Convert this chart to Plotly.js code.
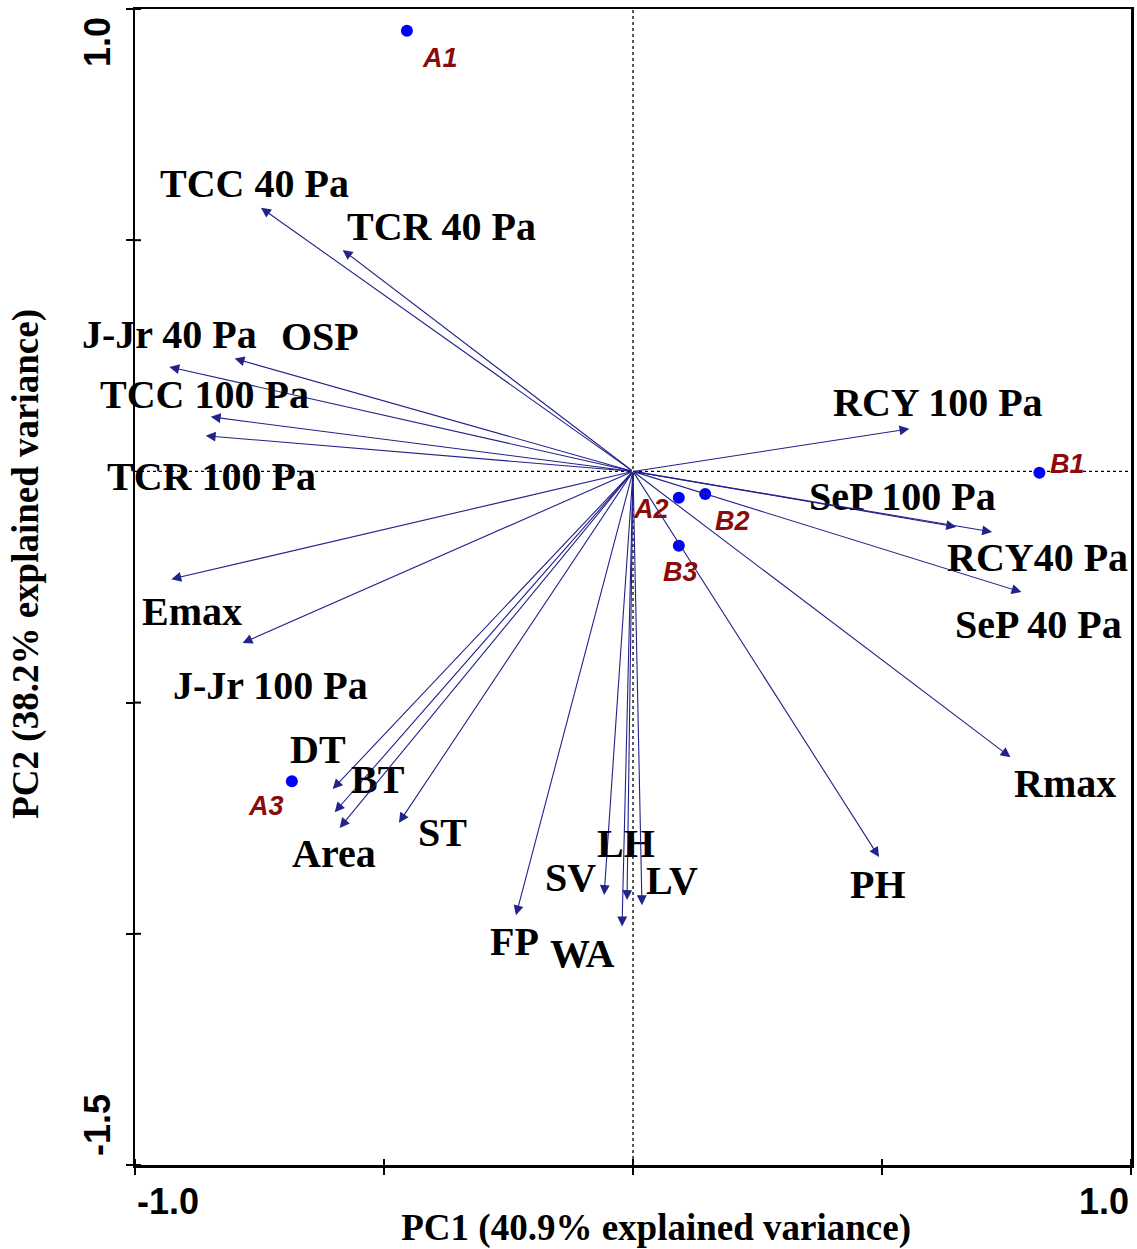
<!DOCTYPE html>
<html>
<head>
<meta charset="utf-8">
<script src="https://cdn.plot.ly/plotly-3.0.1.min.js"></script>
<style>html,body{margin:0;padding:0;background:#fff;}#chart{width:1137px;height:1249px;}</style>
</head>
<body>
<div id="chart"></div>
<script>
// ---- data ----
const varNames = ['TCC 40 Pa','TCR 40 Pa','J-Jr 40 Pa','OSP','TCC 100 Pa','TCR 100 Pa','Emax','J-Jr 100 Pa','DT','BT','Area','ST','FP','SV','WA','LH','LV','PH','Rmax','RCY 100 Pa','SeP 100 Pa','RCY40 Pa','SeP 40 Pa'];
const varPC1 = [-0.747,-0.583,-0.931,-0.800,-0.848,-0.858,-0.927,-0.784,-0.603,-0.599,-0.589,-0.470,-0.235,-0.058,-0.022,-0.012,0.018,0.494,0.758,0.555,0.649,0.721,0.780];
const varPC2 = [0.570,0.479,0.226,0.244,0.118,0.077,-0.233,-0.371,-0.687,-0.737,-0.771,-0.760,-0.960,-0.916,-0.984,-0.927,-0.938,-0.834,-0.618,0.092,-0.120,-0.131,-0.261];

const sampleNames = ['A1','A2','A3','B1','B2','B3'];
const samplePC1 = [-0.454,0.092,-0.685,0.816,0.145,0.092];
const samplePC2 = [0.953,-0.057,-0.670,-0.003,-0.049,-0.161];

const xTickVals = [-1,-0.5,0,0.5,1];
const yTickVals = [-1.5,-1,-0.5,0.5,1];
const xTitle = 'PC1 (40.9% explained variance)';
const yTitle = 'PC2 (38.2% explained variance)';

// ---- label placement (data units) ----
const varLabelX = [-0.760,-0.384,-0.931,-0.629,-0.860,-0.846,-0.886,-0.728,-0.633,-0.513,-0.601,-0.382,-0.237,-0.125,-0.101,-0.014,0.078,0.492,0.868,0.613,0.541,0.812,0.814];
const varLabelY = [0.622,0.529,0.295,0.291,0.166,-0.012,-0.304,-0.464,-0.601,-0.666,-0.826,-0.780,-1.016,-0.878,-1.042,-0.804,-0.884,-0.893,-0.674,0.148,-0.055,-0.187,-0.332];
const sampleLabelX = [-0.388,0.036,-0.736,0.872,0.199,0.096];
const sampleLabelY = [0.895,-0.081,-0.724,0.016,-0.107,-0.218];

const arrowColor = '#22228a';
const serif = 'Liberation Serif, Times New Roman, serif';
const sans = 'Liberation Sans, Arial, sans-serif';

const annotations = [];
// arrows from origin to loadings
varNames.forEach((n,i)=>{
  annotations.push({x:varPC1[i], y:varPC2[i], ax:0, ay:0, xref:'x', yref:'y', axref:'x', ayref:'y',
    text:'', showarrow:true, arrowhead:2, arrowsize:1.8, arrowwidth:1.1, arrowcolor:arrowColor, standoff:0});
  annotations.push({x:varLabelX[i], y:varLabelY[i], xref:'x', yref:'y', text:'<b>'+n+'</b>', showarrow:false,
    xanchor:'center', yanchor:'middle', font:{family:serif, size:40, color:'#000'}});
});
sampleNames.forEach((n,i)=>{
  annotations.push({x:sampleLabelX[i], y:sampleLabelY[i], xref:'x', yref:'y', text:'<b><i>'+n+'</i></b>', showarrow:false,
    xanchor:'center', yanchor:'middle', font:{family:sans, size:27, color:'#8b0a0a'}});
});
// tick labels (placed inward like the original)
annotations.push({x:0, y:-0.012, xref:'paper', yref:'paper', text:'<b>-1.0</b>', showarrow:false, xanchor:'left', yanchor:'top', font:{family:sans, size:36, color:'#000'}});
annotations.push({x:1, y:-0.012, xref:'paper', yref:'paper', text:'<b>1.0</b>', showarrow:false, xanchor:'right', yanchor:'top', font:{family:sans, size:36, color:'#000'}});
annotations.push({x:(97-135)/996, y:(1165-42)/1156, xref:'paper', yref:'paper', text:'<b>1.0</b>', showarrow:false, textangle:-90, xanchor:'center', yanchor:'middle', font:{family:sans, size:36, color:'#000'}});
annotations.push({x:(97-135)/996, y:(1165-1125)/1156, xref:'paper', yref:'paper', text:'<b>-1.5</b>', showarrow:false, textangle:-90, xanchor:'center', yanchor:'middle', font:{family:sans, size:36, color:'#000'}});

const shapes = [
  {type:'line', xref:'x', yref:'y', x0:0, x1:0, y0:-1.5, y1:1, line:{color:'#000', width:1.3, dash:'3px,3px'}, layer:'below'},
  {type:'line', xref:'x', yref:'y', x0:-1, x1:1, y0:0, y1:0, line:{color:'#000', width:1.3, dash:'3px,3px'}, layer:'below'}
];
// inner halves of the crossing ticks
xTickVals.forEach(v=>shapes.push({type:'line', xref:'x', yref:'paper', x0:v, x1:v, y0:0, y1:6/1156, line:{color:'#000', width:2}}));
yTickVals.forEach(v=>shapes.push({type:'line', xref:'paper', yref:'y', x0:0, x1:6/996, y0:v, y1:v, line:{color:'#000', width:2}}));

const traces = [{
  type:'scatter', mode:'markers', x:samplePC1, y:samplePC2, text:sampleNames,
  marker:{color:'#0000ff', size:12}, hoverinfo:'text', cliponaxis:false
}];

const axisCommon = {showgrid:false, zeroline:false, showline:true, mirror:true, linecolor:'#000', linewidth:2.5,
  ticks:'outside', ticklen:7, tickwidth:2, tickcolor:'#000', showticklabels:false, fixedrange:true};

const pad = '&nbsp;&nbsp;&nbsp;&nbsp;&nbsp;';
const layout = {
  width:1137, height:1249,
  margin:{l:135, r:6, t:9, b:84},
  paper_bgcolor:'#fff', plot_bgcolor:'#fff',
  showlegend:false,
  xaxis:Object.assign({}, axisCommon, {range:[-1,1], tickvals:xTickVals,
    title:{text:pad+'<b>'+xTitle+'</b>', font:{family:serif, size:37, color:'#000'}, standoff:41}}),
  yaxis:Object.assign({}, axisCommon, {range:[-1.5,1], tickvals:yTickVals,
    title:{text:pad+'<b>'+yTitle+'</b>', font:{family:serif, size:37, color:'#000'}, standoff:76}}),
  annotations:annotations,
  shapes:shapes
};

Plotly.newPlot('chart', traces, layout, {displayModeBar:false, staticPlot:true});
</script>
</body>
</html>
